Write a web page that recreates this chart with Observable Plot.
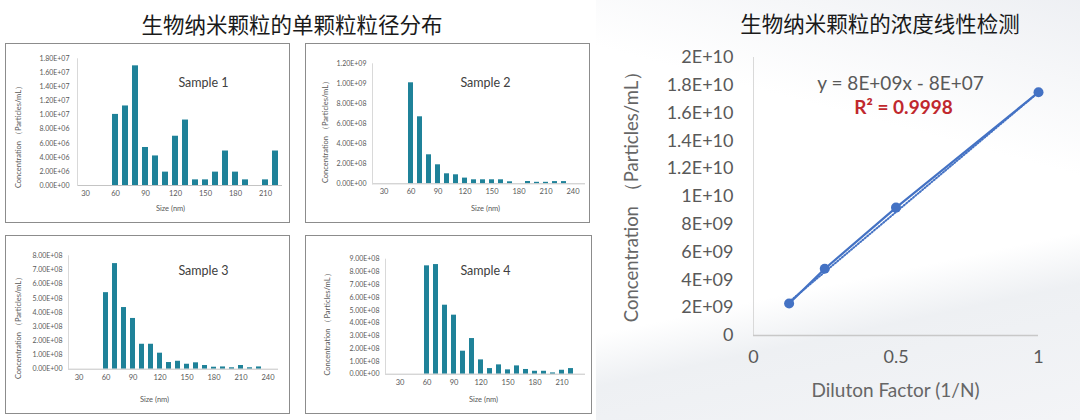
<!DOCTYPE html>
<html><head><meta charset="utf-8">
<script src="https://cdn.jsdelivr.net/npm/d3@7"></script>
<script src="https://cdn.jsdelivr.net/npm/@observablehq/plot@0.6"></script>
<style>
body{margin:0;background:#fff;}
#root{position:relative;width:1080px;height:420px;overflow:hidden;font-family:"Noto Sans",sans-serif;}
#bg{position:absolute;left:596px;top:0;width:484px;height:420px;
 background:
  linear-gradient(168deg, rgba(255,255,255,0) 64%, rgba(232,235,239,0.75) 74%, rgba(242,243,246,0.9) 100%),
  linear-gradient(195deg, rgba(236,238,242,0.9) 0%, rgba(255,255,255,0) 32%),
  #fff;}
.title{position:absolute;font-family:"Noto Sans CJK SC",sans-serif;font-size:21.5px;color:#1a1a1a;white-space:nowrap;transform:translate(-50%,-50%);}
.box{position:absolute;border:1.5px solid #8c8c8c;box-sizing:border-box;background:#fff;}
.plot{position:absolute;}
</style></head>
<body>
<div id="root">
  <div id="bg"></div>
  <div class="title" style="left:292px;top:23px">生物纳米颗粒的单颗粒粒径分布</div>
  <div class="title" style="left:880px;top:22px">生物纳米颗粒的浓度线性检测</div>
</div>
<script>
// ---------- data ----------
const sampleLabels = ["Sample 1", "Sample 2", "Sample 3", "Sample 4"];

const categories1 = [30,40,50,60,70,80,90,100,110,120,130,140,150,160,170,180,190,200,210,220];
const categories2 = [30,40,50,60,70,80,90,100,110,120,130,140,150,160,170,180,190,200,210,220,230,240];
const categories3 = [30,40,50,60,70,80,90,100,110,120,130,140,150,160,170,180,190,200,210,220,230,240];
const categories4 = [30,40,50,60,70,80,90,100,110,120,130,140,150,160,170,180,190,200,210,220];

const xTickLabels1 = [30,60,90,120,150,180,210];
const xTickLabels2 = [30,60,90,120,150,180,210,240];
const xTickLabels3 = [30,60,90,120,150,180,210,240];
const xTickLabels4 = [30,60,90,120,150,180,210];

const sizes1 = [60,70,80,90,100,110,120,130,140,150,160,170,180,190,210,220];
const conc1  = [1.01e7,1.13e7,1.70e7,5.4e6,4.2e6,1.9e6,7.0e6,9.3e6,8e5,8e5,1.9e6,4.9e6,1.9e6,8e5,8e5,4.9e6];

const sizes2 = [60,70,80,90,100,110,120,130,140,150,160,170,190,200,210,220,230];
const conc2  = [1.01e9,6.7e8,2.9e8,1.9e8,1.0e8,9.0e7,5.7e7,4.0e7,4.0e7,4.0e7,4.0e7,2.0e7,2.3e7,1.5e7,1.5e7,2.2e7,2.2e7];

const sizes3 = [60,70,80,90,100,110,120,130,140,150,160,170,180,190,200,210,220,230];
const conc3  = [5.4e8,7.45e8,4.35e8,3.58e8,1.76e8,1.76e8,1.13e8,4.7e7,5.6e7,3.5e7,4.5e7,2.6e7,1.4e7,1.6e7,1.0e7,2.6e7,1.0e7,1.6e7];

const sizes4 = [60,70,80,90,100,110,120,130,140,150,160,170,180,190,200,210,220];
const conc4  = [8.48e8,8.58e8,5.4e8,4.62e8,1.8e8,2.79e8,1.12e8,4.4e7,7.3e7,3.4e7,6.5e7,3.7e7,2.3e7,2.3e7,1.0e7,3.1e7,4.4e7];

const yTicks1 = [0,2e6,4e6,6e6,8e6,1e7,1.2e7,1.4e7,1.6e7,1.8e7];
const yTicks2 = [0,2e8,4e8,6e8,8e8,1e9,1.2e9];
const yTicks3 = [0,1e8,2e8,3e8,4e8,5e8,6e8,7e8,8e8];
const yTicks4 = [0,1e8,2e8,3e8,4e8,5e8,6e8,7e8,8e8,9e8];

const dilution = [0.125, 0.25, 0.5, 1];
const concentration = [2.3e9, 4.8e9, 9.2e9, 1.75e10];
const lineXTicks = [0, 0.5, 1];
const lineYTicks = [0,2e9,4e9,6e9,8e9,1e10,1.2e10,1.4e10,1.6e10,1.8e10,2e10];
const equationText = "y = 8E+09x - 8E+07";
const r2Text = "R² = 0.9998";

// ---------- helpers ----------
function sci2(d){
  if (d === 0) return "0.00E+00";
  const e = Math.floor(Math.log10(d) + 1e-9);
  const m = d / Math.pow(10, e);
  return m.toFixed(2) + "E" + (e < 0 ? "-" : "+") + String(Math.abs(e)).padStart(2, "0");
}
function sciShort(d){
  if (d === 0) return "0";
  const e = Math.floor(Math.log10(d) + 1e-9);
  const m = +(d / Math.pow(10, e)).toFixed(2);
  return m + "E" + (e < 0 ? "-" : "+") + String(Math.abs(e)).padStart(2, "0");
}

const root = document.getElementById("root");

// layout of the four histogram panels (absolute page coordinates)
const layouts = [
  {left:5,   top:43,  w:285, h:180, ml:72, mr:8,  mt:15.3, mb:38,   tp:9, sample:[203,82],  ytitle:[18,134.5],  xtitle:[170,208]},
  {left:305, top:43,  w:285, h:180, ml:67, mr:5,  mt:20.3, mb:39.7, tp:7, sample:[485,82],  ytitle:[325,129.5], xtitle:[485,208]},
  {left:5,   top:235, w:285, h:179, ml:63, mr:12, mt:20.3, mb:45.3, tp:7, sample:[203,270], ytitle:[18,325.5],  xtitle:[154,399]},
  {left:305, top:235, w:287, h:179, ml:80, mr:7,  mt:23.7, mb:40.3, tp:7, sample:[485,270], ytitle:[327,322],   xtitle:[483,399]}
];
const panelData = [
  [categories1, sizes1, conc1, yTicks1, xTickLabels1],
  [categories2, sizes2, conc2, yTicks2, xTickLabels2],
  [categories3, sizes3, conc3, yTicks3, xTickLabels3],
  [categories4, sizes4, conc4, yTicks4, xTickLabels4]
];

function place(el, left, top){
  el.classList.add("plot");
  el.style.left = left + "px";
  el.style.top = top + "px";
  root.appendChild(el);
}

layouts.forEach((L, i) => {
  const [cats, sizes, conc, yTicks, xTicks] = panelData[i];
  const box = document.createElement("div");
  box.className = "box";
  Object.assign(box.style, {left: L.left + "px", top: L.top + "px", width: L.w + "px", height: L.h + "px"});
  root.appendChild(box);

  const at = (ax, ay) => ({frameAnchor: "top-left", dx: ax - L.left - L.ml, dy: ay - L.top - L.mt});
  const data = sizes.map((s, k) => ({size: s, conc: conc[k]}));
  const chart = Plot.plot({
    width: L.w, height: L.h,
    marginLeft: L.ml, marginRight: L.mr, marginTop: L.mt, marginBottom: L.mb,
    style: {fontFamily: "Lato, 'Noto Sans', sans-serif", background: "transparent", overflow: "visible"},
    x: {type: "band", domain: cats, padding: 0.4, axis: null},
    y: {domain: [0, yTicks[yTicks.length - 1]], axis: null},
    marks: [
      Plot.barY(data, {x: "size", y: "conc", fill: "#1f8299"}),
      Plot.ruleY([0], {stroke: "#c4c4c4", strokeWidth: 1}),
      Plot.frame({anchor: "left", stroke: "#d9d9d9"}),
      Plot.axisY(yTicks, {tickSize: 0, tickPadding: L.tp - 1, tickFormat: sci2, fontSize: 7, color: "#595959", label: null}),
      Plot.axisX(xTicks, {tickSize: 0, tickPadding: 5, fontSize: 7.5, color: "#595959", label: null}),
      Plot.text([sampleLabels[i]], {...at(...L.sample), textAnchor: "middle", lineAnchor: "middle", fontSize: 12.5, fill: "#404040"}),
      Plot.text(["Concentration （Particles/mL）"], {...at(...L.ytitle), rotate: -90, textAnchor: "middle", lineAnchor: "middle", fontSize: 7.5, fill: "#595959"}),
      Plot.text(["Size (nm)"], {...at(...L.xtitle), textAnchor: "middle", lineAnchor: "middle", fontSize: 7.5, fill: "#595959"})
    ]
  });
  place(chart, L.left, L.top);
});

// ---------- right: linearity chart ----------
const R = {left: 600, top: 40, w: 480, h: 380, ml: 153, mr: 42, mt: 17, mb: 85};
const atR = (ax, ay) => ({frameAnchor: "top-left", dx: ax - R.left - R.ml, dy: ay - R.top - R.mt});
const lin = dilution.map((x, k) => ({x, y: concentration[k]}));
const right = Plot.plot({
  width: R.w, height: R.h,
  marginLeft: R.ml, marginRight: R.mr, marginTop: R.mt, marginBottom: R.mb,
  style: {fontFamily: "Lato, 'Noto Sans', sans-serif", background: "transparent", overflow: "visible"},
  x: {domain: [0, 1], axis: null},
  y: {domain: [0, 2e10], axis: null},
  marks: [
    Plot.frame({anchor: "left", stroke: "#d9d9d9"}),
    Plot.ruleY([0], {stroke: "#c8c8c8", strokeWidth: 1.5}),
    Plot.axisY(lineYTicks, {tickSize: 0, tickPadding: 20, tickFormat: sciShort, fontSize: 18, color: "#595959", label: null}),
    Plot.axisX(lineXTicks, {tickSize: 0, tickPadding: 15, tickFormat: d => String(d), fontSize: 18, color: "#595959", label: null}),
    Plot.linearRegressionY(lin, {x: "x", y: "y", stroke: "#4472c4", strokeWidth: 2, strokeDasharray: "1,2", ci: 0, dy: 1.5}),
    Plot.line(lin, {x: "x", y: "y", stroke: "#4472c4", strokeWidth: 2.2}),
    Plot.dot(lin, {x: "x", y: "y", r: 5, fill: "#4472c4"}),
    Plot.text([equationText], {...atR(900, 83), textAnchor: "middle", lineAnchor: "middle", fontSize: 19, fill: "#595959"}),
    Plot.text([r2Text], {...atR(903, 107), textAnchor: "middle", lineAnchor: "middle", fontSize: 19, fontWeight: "bold", fill: "#c0282d"}),
    Plot.text(["Concentration （Particles/mL）"], {...atR(632, 191.5), rotate: -90, textAnchor: "middle", lineAnchor: "middle", fontSize: 18.5, fill: "#666666"}),
    Plot.text(["Diluton Factor (1/N)"], {...atR(895, 390), textAnchor: "middle", lineAnchor: "middle", fontSize: 19, fill: "#666666"})
  ]
});
place(right, R.left, R.top);
</script>
</body></html>
